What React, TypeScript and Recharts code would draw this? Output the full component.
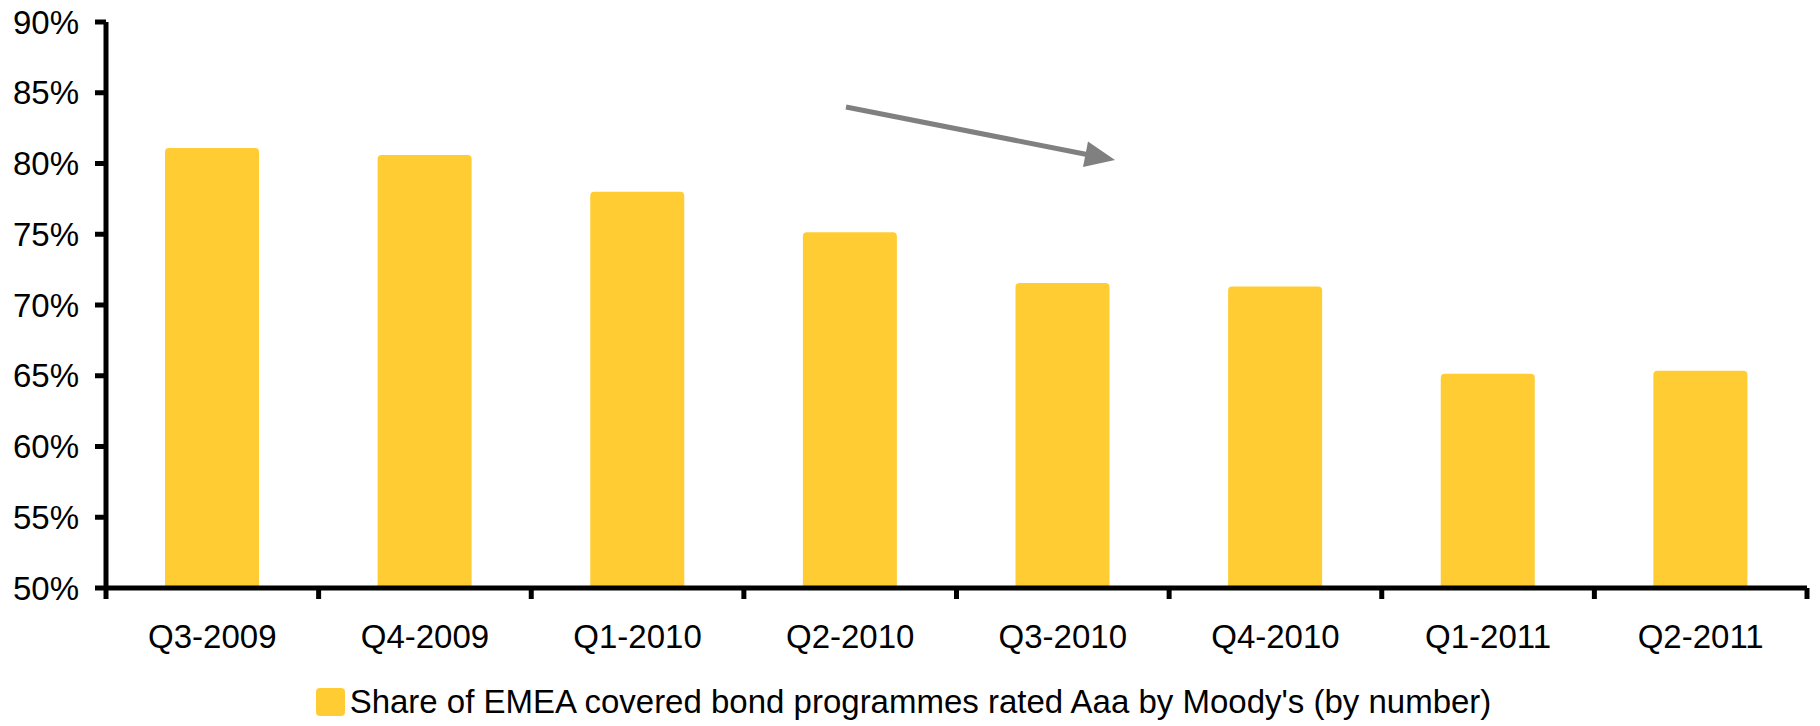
import React from "react";
import { BarChart, Bar, XAxis, YAxis, Legend } from "recharts";

const quarters = ["Q3-2009", "Q4-2009", "Q1-2010", "Q2-2010", "Q3-2010", "Q4-2010", "Q1-2011", "Q2-2011"];
const aaaShare = [81.1, 80.6, 78.0, 75.15, 71.55, 71.3, 65.15, 65.35];
const yTicks = [50, 55, 60, 65, 70, 75, 80, 85, 90];
const seriesName = "Share of EMEA covered bond programmes rated Aaa by Moody's (by number)";

const WIDTH = 1820;
const HEIGHT = 726;
const MARGIN = { top: 22, right: 13, left: 0, bottom: 0 };
const Y_AXIS_W = 106;
const FONT = "'Liberation Sans', Arial, sans-serif";
const FONT_SIZE = 33;
const BAR_COLOR = "#FFCC33";
const LINE_W = 5;

const data = quarters.map((q, i) => ({ quarter: q, share: aaaShare[i] }));

// width of one category band, used to put tick marks on the band edges
const bandWidth = (WIDTH - MARGIN.left - MARGIN.right - Y_AXIS_W) / quarters.length;

function QuarterTick(props: any) {
  const { x, y, payload, index } = props;
  const left = x - bandWidth / 2;
  const right = x + bandWidth / 2;
  return (
    <g>
      <line x1={left} y1={y} x2={left} y2={y + 11} stroke="#000" strokeWidth={LINE_W} />
      {index === quarters.length - 1 && (
        <line x1={right} y1={y} x2={right} y2={y + 11} stroke="#000" strokeWidth={LINE_W} />
      )}
      <text x={x} y={y + 60} textAnchor="middle" fontSize={FONT_SIZE} fontFamily={FONT} fill="#000">
        {payload.value}
      </text>
    </g>
  );
}

function LegendContent() {
  return (
    <div style={{ display: "flex", justifyContent: "center", alignItems: "center", height: 48, fontFamily: FONT }}>
      <span style={{ width: 29, height: 28, background: BAR_COLOR, borderRadius: 4, marginRight: 5, display: "inline-block" }} />
      <span style={{ fontSize: FONT_SIZE, color: "#000" }}>{seriesName}</span>
    </div>
  );
}

// downward trend arrow drawn over the plot
function TrendArrow() {
  return (
    <svg width={WIDTH} height={HEIGHT} style={{ position: "absolute", left: 0, top: 0, pointerEvents: "none" }}>
      <line x1={846} y1={107} x2={1087} y2={154.5} stroke="#808080" strokeWidth={5} />
      <polygon points="1088,141.4 1115,160 1083,167" fill="#808080" />
    </svg>
  );
}

export default function App() {
  return (
    <div style={{ position: "absolute", left: 0, top: 0, width: WIDTH, height: HEIGHT, background: "#fff" }}>
      <BarChart width={WIDTH} height={HEIGHT} data={data} margin={MARGIN} barSize={94}>
        <XAxis
          dataKey="quarter"
          height={90}
          stroke="#000"
          strokeWidth={LINE_W}
          axisLine={{ stroke: "#000", strokeWidth: LINE_W }}
          tickLine={false}
          tickSize={0}
          tickMargin={0}
          interval={0}
          tick={<QuarterTick />}
        />
        <YAxis
          width={Y_AXIS_W}
          domain={[50, 90]}
          ticks={yTicks}
          interval={0}
          tickFormatter={(v) => `${v}%`}
          stroke="#000"
          strokeWidth={LINE_W}
          axisLine={{ stroke: "#000", strokeWidth: LINE_W }}
          tickLine={{ stroke: "#000", strokeWidth: LINE_W }}
          tickSize={11}
          tickMargin={16}
          tick={{ fontSize: FONT_SIZE, fontFamily: FONT, fill: "#000", stroke: "none" }}
          allowDataOverflow
        />
        <Legend verticalAlign="bottom" height={48} content={<LegendContent />} />
        <Bar dataKey="share" name={seriesName} fill={BAR_COLOR} radius={[4, 4, 0, 0]} isAnimationActive={false} />
      </BarChart>
      <TrendArrow />
    </div>
  );
}
